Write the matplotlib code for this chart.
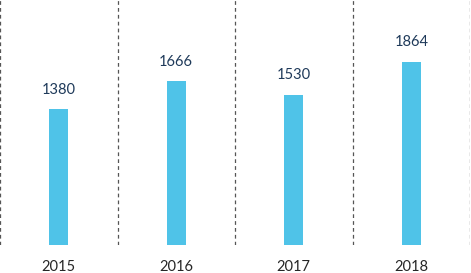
import matplotlib
matplotlib.use("Agg")
import matplotlib.pyplot as plt

years = ["2015", "2016", "2017", "2018"]
values = [1380, 1666, 1530, 1864]

plt.rcParams['font.family'] = ['Lato', 'DejaVu Sans']

fig = plt.figure(figsize=(4.71, 2.73), dpi=100)
ax = fig.add_axes([0.0, 0.1026, 470/471, 0.8974])

x = list(range(len(years)))
ax.bar(x, values, width=0.16, color="#4FC3E8", zorder=2)
for xi, v in zip(x, values):
    ax.annotate(str(v), (xi, v), xytext=(0, 9), textcoords="offset points",
                ha="center", va="bottom", fontsize=10.5, color="#1F3A5A")

for b in [i - 0.5 for i in range(len(years) + 1)]:
    ax.axvline(b, color="#555555", lw=0.9, ls=(0, (3, 2.5)), zorder=1)

ax.set_xlim(-0.5, len(years) - 0.5)
ax.set_ylim(0, 2495)
ax.set_xticks(x)
ax.set_xticklabels(years, fontsize=10.5, color="#262626")
ax.tick_params(axis="x", length=0, pad=11)
ax.set_yticks([])
for s in ax.spines.values():
    s.set_visible(False)

fig.savefig("out.png", dpi=100)
